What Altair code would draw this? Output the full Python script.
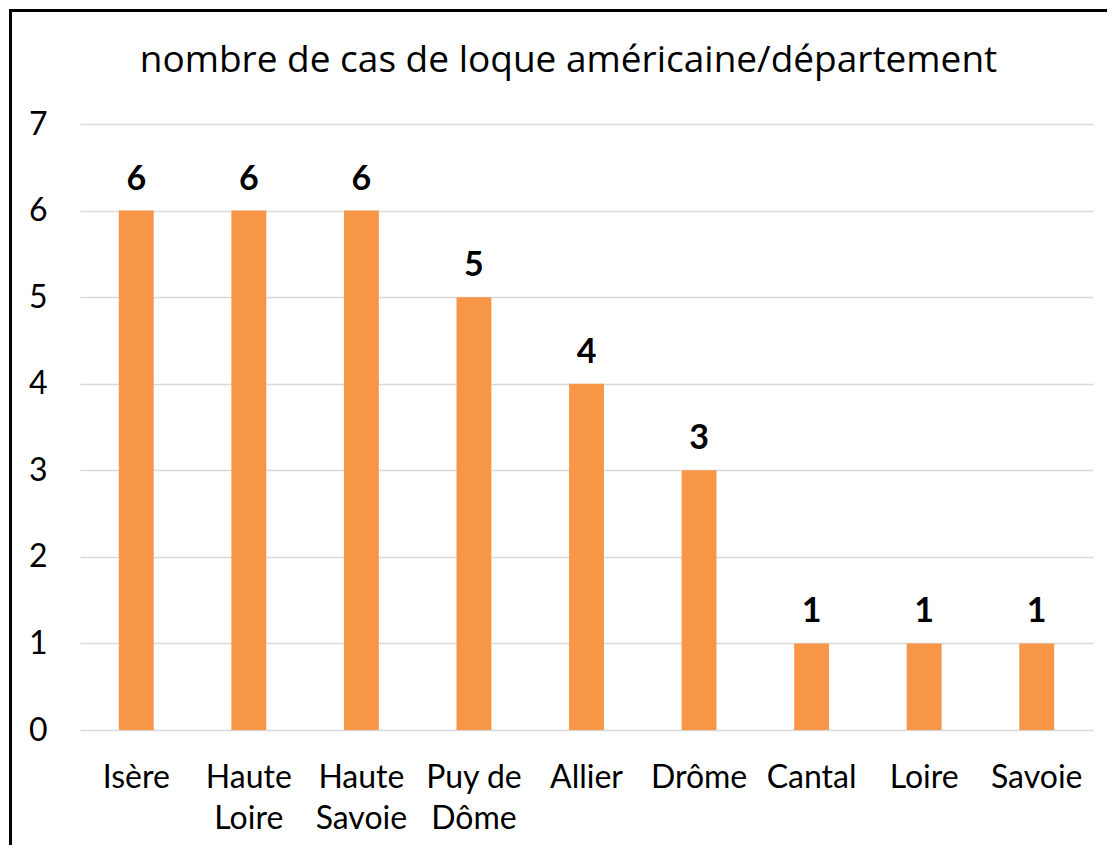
import altair as alt
import pandas as pd

departements = ["Isère", "Haute Loire", "Haute Savoie", "Puy de Dôme", "Allier",
                "Drôme", "Cantal", "Loire", "Savoie"]
cas = [6, 6, 6, 5, 4, 3, 1, 1, 1]
label_lines = {
    "Haute Loire": ["Haute", "Loire"],
    "Haute Savoie": ["Haute", "Savoie"],
    "Puy de Dôme": ["Puy de", "Dôme"],
}
y_ticks = [0, 1, 2, 3, 4, 5, 6, 7]
title_text = "nombre de cas de loque américaine/département"

df = pd.DataFrame({"departement": departements, "cas": cas})

FONT = "Lato"
W, H = 1013, 606

expr = "datum.value"
for k, v in reversed(list(label_lines.items())):
    arr = "[" + ",".join("'" + s + "'" for s in v) + "]"
    expr = f"datum.value === '{k}' ? {arr} : ({expr})"

x = alt.X("departement:N", sort=departements, title=None,
          scale=alt.Scale(paddingInner=0.69, paddingOuter=0.345),
          axis=alt.Axis(labelAngle=0, labelExpr=expr, labelFont=FONT,
                        labelFontSize=32, labelColor="black", labelPadding=57,
                        labelBaseline="alphabetic", labelLineHeight=41,
                        ticks=False, tickSize=0, domain=False, grid=False))
y = alt.Y("cas:Q", title=None,
          scale=alt.Scale(domain=[0, 7], nice=False),
          axis=alt.Axis(values=y_ticks, format="d", labelFont=FONT,
                        labelFontSize=32, labelColor="black", labelPadding=33,
                        ticks=False, tickSize=0, domain=False, grid=True,
                        gridColor="#D9D9D9", gridWidth=1.4))

bars = alt.Chart(df).mark_bar(color="#F79646").encode(x=x, y=y)
labels = alt.Chart(df).mark_text(font=FONT, fontSize=34, fontWeight="bold",
                                 color="black", baseline="alphabetic", dy=-21
                                 ).encode(x=x, y=y, text="cas:Q")
border = alt.Chart(df).mark_rect(fillOpacity=0, stroke="black", strokeWidth=2).encode(
    x=alt.value(-69.5), x2=alt.value(1200), y=alt.value(-113.5), y2=alt.value(900))

chart = alt.layer(bars, labels, border).properties(
    width=W, height=H,
    autosize=alt.AutoSizeParams(type="none"),
    padding={"left": 72, "top": 116, "right": 14, "bottom": 115},
    title=alt.TitleParams(text=title_text, font="Open Sans", fontSize=37,
                          fontWeight="normal", color="black", anchor="middle",
                          frame="group", baseline="alphabetic", offset=-99, dx=-18),
).configure(background="white", view=alt.ViewConfig(stroke=None))

chart.save("out.html", embed_options={"renderer": "svg", "actions": False})
